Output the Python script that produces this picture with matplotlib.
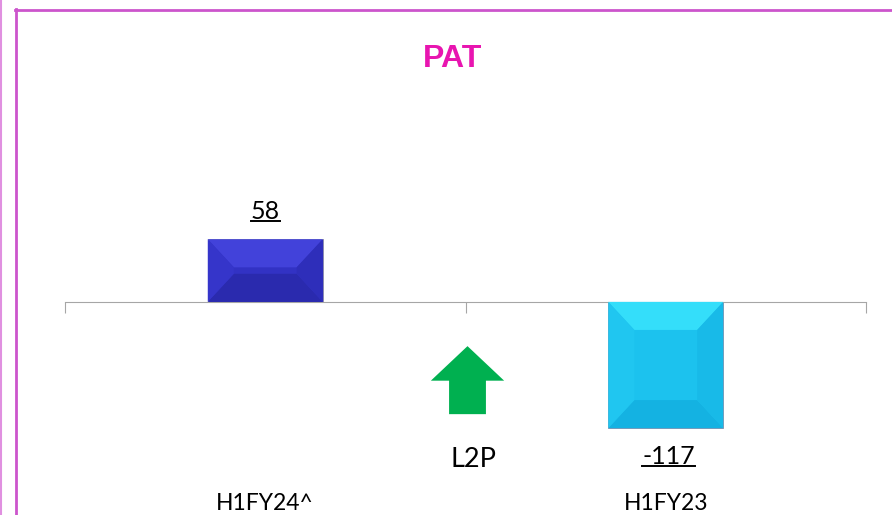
import matplotlib
matplotlib.use("Agg")
import matplotlib.pyplot as plt
from matplotlib.patches import Polygon, FancyArrow
from matplotlib.lines import Line2D

categories = ["H1FY24^", "H1FY23"]
values = [58, -117]
bar_colors = ["#3232C4", "#1CC2EE"]
top_colors = ["#4242DA", "#34DEFA"]
left_colors = ["#3535CA", "#20C6F0"]
right_colors = ["#2E2EBA", "#18BAE8"]
bottom_colors = ["#2A2AAE", "#14B2E2"]
title = "PAT"
arrow_label = "L2P"

plt.rcParams["font.family"] = ["Lato", "DejaVu Sans"]

fig = plt.figure(figsize=(8.92, 5.15), dpi=100)
W, H = 892, 515
ax = fig.add_axes([65 / W, (H - 480) / H, (866 - 65) / W, 380 / H])
ax.set_xlim(-0.5, 1.5)
ax.set_ylim(-165, 187)
for s in ["top", "right", "left"]:
    ax.spines[s].set_visible(False)
ax.spines["bottom"].set_position(("data", 0))
ax.spines["bottom"].set_color("#A6A6A6")
ax.set_xticks([-0.5, 0.5, 1.5])
ax.set_xticklabels([])
ax.tick_params(axis="x", length=8, color="#A6A6A6", direction="out")
ax.set_yticks([])

width = 0.287
bars = ax.bar(range(len(values)), values, width=width, color=bar_colors,
              edgecolor="#8A8AA8", linewidth=0.6, zorder=2)

# bevel: four shaded trapezoids round an inner face
bev_x = 0.065
bev_y = 26
for i, b in enumerate(bars):
    x0, x1 = b.get_x(), b.get_x() + b.get_width()
    y0, y1 = sorted([0, values[i]])
    ix0, ix1 = x0 + bev_x, x1 - bev_x
    iy0, iy1 = y0 + bev_y, y1 - bev_y
    parts = [
        ([(x0, y1), (x1, y1), (ix1, iy1), (ix0, iy1)], top_colors[i]),
        ([(x0, y0), (x1, y0), (ix1, iy0), (ix0, iy0)], bottom_colors[i]),
        ([(x0, y0), (x0, y1), (ix0, iy1), (ix0, iy0)], left_colors[i]),
        ([(x1, y0), (x1, y1), (ix1, iy1), (ix1, iy0)], right_colors[i]),
    ]
    for pts, col in parts:
        ax.add_patch(Polygon(pts, closed=True, color=col, lw=0, zorder=3))

# value labels
labels = []
for i, v in enumerate(values):
    off = 12 if v > 0 else -12
    t = ax.annotate(str(v), (i, v), xytext=(2 if v < 0 else 0, off),
                    textcoords="offset points",
                    ha="center", va="bottom" if v > 0 else "top",
                    fontsize=18, color="#000000")
    labels.append(t)

# category labels
for i, c in enumerate(categories):
    ax.text(i, -0.062, c, transform=ax.get_xaxis_transform(), ha="center",
            va="center", fontsize=16.5, color="#000000", clip_on=False)

# L2P arrow
ax.add_patch(FancyArrow(0.505, -104, 0, 63, width=0.092, head_width=0.183,
                        head_length=32, length_includes_head=True,
                        color="#00B050", lw=0, zorder=3))
ax.text(0.52, -146, arrow_label, ha="center", va="center", fontsize=19.5, color="#000000")

fig.text(453 / W, 1 - 59 / H, title, ha="center", va="center", fontsize=23,
         fontweight="bold", color="#E815B0", family="Liberation Sans")

# frame lines
fig.add_artist(Line2D([15.5 / W, 15.5 / W], [0, 1 - 9 / H], color="#CC55CC", lw=2))
fig.add_artist(Line2D([15 / W, 1], [1 - 9.5 / H, 1 - 9.5 / H], color="#CC55CC", lw=2))
fig.add_artist(Line2D([0.5 / W, 0.5 / W], [0, 1], color="#E090E0", lw=1.5))

# underline value labels
fig.canvas.draw()
r = fig.canvas.get_renderer()
for t in labels:
    bb = t.get_window_extent(r)
    y = bb.y0 + 2
    fig.add_artist(Line2D([bb.x0 / W, bb.x1 / W], [y / H, y / H], color="#000000", lw=1.4))

fig.savefig("out.png", dpi=100)
